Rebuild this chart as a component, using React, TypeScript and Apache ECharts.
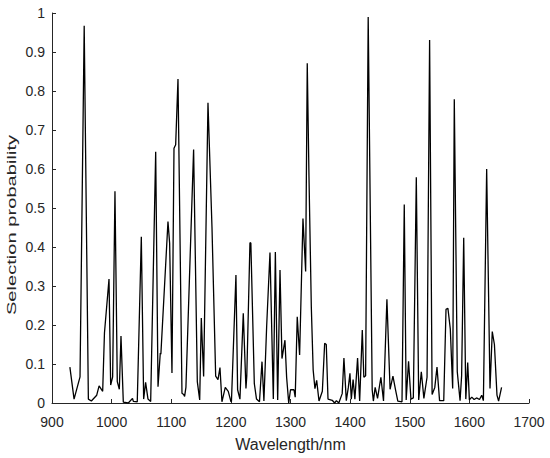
import React, { useEffect, useRef } from "react";
import * as echarts from "echarts";

const wavelengths = [
  930, 937, 947, 954, 961, 966, 975, 979, 985, 988, 995.6, 998.4, 1001.7, 1005.6, 1009.5, 1012.9, 1015.7, 1019.6, 1028, 1035, 1036.4, 1043,
  1049.8, 1053.7, 1057, 1061, 1065.5, 1073.9, 1077.8, 1081.6, 1082.6, 1094.5, 1097.3, 1101.2, 1104.6, 1107.4, 1111.3, 1112.7, 1118, 1120.8, 1122.4, 1124.6,
  1137.5, 1143.7, 1147.7, 1150.4, 1154.3, 1161.6, 1168.3, 1174.5, 1178.4, 1181.7, 1185, 1190.6, 1195.6, 1200.2, 1201, 1208.5, 1211.3, 1215.2,
  1220.8, 1225.3, 1226.7, 1232, 1233.5, 1239.3, 1243, 1248, 1252.2, 1255.4, 1260, 1265.6, 1271.2, 1274.6, 1278.5, 1282.4, 1285.7, 1290.7, 1293.5, 1297, 1300, 1303,
  1305.8, 1307.9, 1311.3, 1315.3, 1320.9, 1325.4, 1328.1, 1331, 1334.9, 1338, 1341, 1343.9, 1347.8, 1353.4, 1357.3, 1360, 1362.9, 1370, 1374, 1377, 1381,
  1386.7, 1389.6, 1393.6, 1397, 1399.7, 1402, 1405, 1408, 1412.5, 1416, 1420.4, 1423, 1426, 1430.3, 1437, 1439, 1442, 1446, 1451.6, 1456, 1461.7, 1467,
  1471.8, 1476, 1480, 1487, 1490.8, 1494, 1498, 1502, 1506, 1511, 1515, 1519.4, 1523.7, 1529, 1533.3, 1537.5, 1542, 1545.7, 1550, 1557, 1560.8, 1564, 1568,
  1572, 1574.7, 1579.7, 1584.4, 1587, 1590.5, 1594, 1597.2, 1600, 1604, 1608, 1612, 1617, 1620.7, 1623.5, 1629, 1634.6, 1638.4, 1642, 1646.3, 1649, 1654,
];

const probabilities = [
  0.092, 0.01, 0.067, 0.967, 0.01, 0.005, 0.02, 0.044, 0.03, 0.18, 0.318, 0.046, 0.067, 0.543, 0.055, 0.035, 0.172, 0.002, 0, 0.012, 0.004, 0.003,
  0.426, 0.01, 0.053, 0.01, 0.004, 0.644, 0.042, 0.128, 0.125, 0.465, 0.41, 0.077, 0.653, 0.662, 0.831, 0.665, 0.025, 0.022, 0.017, 0.04,
  0.65, 0.055, 0.008, 0.218, 0.068, 0.77, 0.452, 0.069, 0.06, 0.091, 0.003, 0.04, 0.03, 0.003, 0.005, 0.328, 0.034, 0.01,
  0.23, 0.037, 0.07, 0.411, 0.41, 0.05, 0.01, 0.003, 0.106, 0.005, 0.196, 0.386, 0.01, 0.387, 0.008, 0.341, 0.114, 0.161, 0.066, 0.0, 0.034, 0.034,
  0.034, 0.015, 0.221, 0.123, 0.473, 0.337, 0.871, 0.58, 0.247, 0.085, 0.037, 0.058, 0.005, 0.03, 0.153, 0.15, 0.01, 0.007, 0, 0.006, 0,
  0.024, 0.115, 0.006, 0.04, 0.076, 0.01, 0.06, 0.01, 0.115, 0.005, 0.187, 0.066, 0.07, 0.99, 0.034, 0.005, 0.04, 0.012, 0.066, 0.005, 0.266, 0.035,
  0.069, 0.035, 0.005, 0.003, 0.509, 0.008, 0.107, 0.01, 0.013, 0.579, 0.008, 0.08, 0.012, 0.066, 0.931, 0.022, 0.04, 0.092, 0.006, 0.006, 0.24, 0.243, 0.19,
  0.037, 0.779, 0.08, 0.006, 0.07, 0.424, 0.01, 0.104, 0.008, 0.015, 0.009, 0.013, 0.009, 0.02, 0.006, 0.6, 0.037, 0.183, 0.15, 0.02, 0.005, 0.04,
];

const xTicks = [900, 1000, 1100, 1200, 1300, 1400, 1500, 1600, 1700];
const yTicks = [0, 0.1, 0.2, 0.3, 0.4, 0.5, 0.6, 0.7, 0.8, 0.9, 1];
const xAxisTitle = "Wavelength/nm";
const yAxisTitle = "Selection probability";

export default function App() {
  const ref = useRef<HTMLDivElement>(null);
  useEffect(() => {
    if (!ref.current) return;
    const chart = echarts.init(ref.current, undefined, { renderer: "svg" });
    const font = "Arial, 'Liberation Sans', sans-serif";
    const axisColor = "#262626";
    chart.setOption({
      animation: false,
      backgroundColor: "#ffffff",
      grid: { left: 52, right: 21, top: 13, bottom: 55, containLabel: false, outerBoundsMode: "none" },
      xAxis: {
        type: "value",
        min: xTicks[0],
        max: xTicks[xTicks.length - 1],
        interval: 100,
        name: xAxisTitle,
        nameLocation: "middle",
        nameGap: 33,
        nameTextStyle: { fontFamily: font, fontSize: 16, color: axisColor },
        axisLine: { show: true, lineStyle: { color: axisColor, width: 1 } },
        axisTick: { show: true, inside: true, length: 4, lineStyle: { color: axisColor } },
        axisLabel: { fontFamily: font, fontSize: 14, color: axisColor, margin: 12, formatter: (v: number) => String(v) },
        splitLine: { show: false },
      },
      yAxis: {
        type: "value",
        min: yTicks[0],
        max: yTicks[yTicks.length - 1],
        interval: 0.1,
        axisLine: { show: true, lineStyle: { color: axisColor, width: 1 } },
        axisTick: { show: true, inside: true, length: 4, lineStyle: { color: axisColor } },
        axisLabel: {
          fontFamily: font,
          fontSize: 14,
          color: axisColor,
          margin: 7,
          formatter: (v: number) => String(Math.round(v * 10) / 10),
        },
        splitLine: { show: false },
      },
      graphic: [
        {
          type: "text",
          x: 12,
          y: 225,
          rotation: Math.PI / 2,
          scaleX: 1.55,
          scaleY: 1,
          style: {
            text: yAxisTitle,
            fontFamily: font,
            fontSize: 13,
            fill: axisColor,
            textAlign: "center",
            textVerticalAlign: "middle",
          },
        },
      ],
      series: [
        {
          type: "line",
          data: wavelengths.map((w, i) => [w, probabilities[i]]),
          showSymbol: false,
          symbol: "none",
          lineStyle: { color: "#000000", width: 1.3 },
          itemStyle: { color: "#000000" },
        },
      ],
    });
    return () => chart.dispose();
  }, []);
  return <div ref={ref} style={{ width: 550, height: 458, position: "absolute", left: 0, top: 0 }} />;
}
